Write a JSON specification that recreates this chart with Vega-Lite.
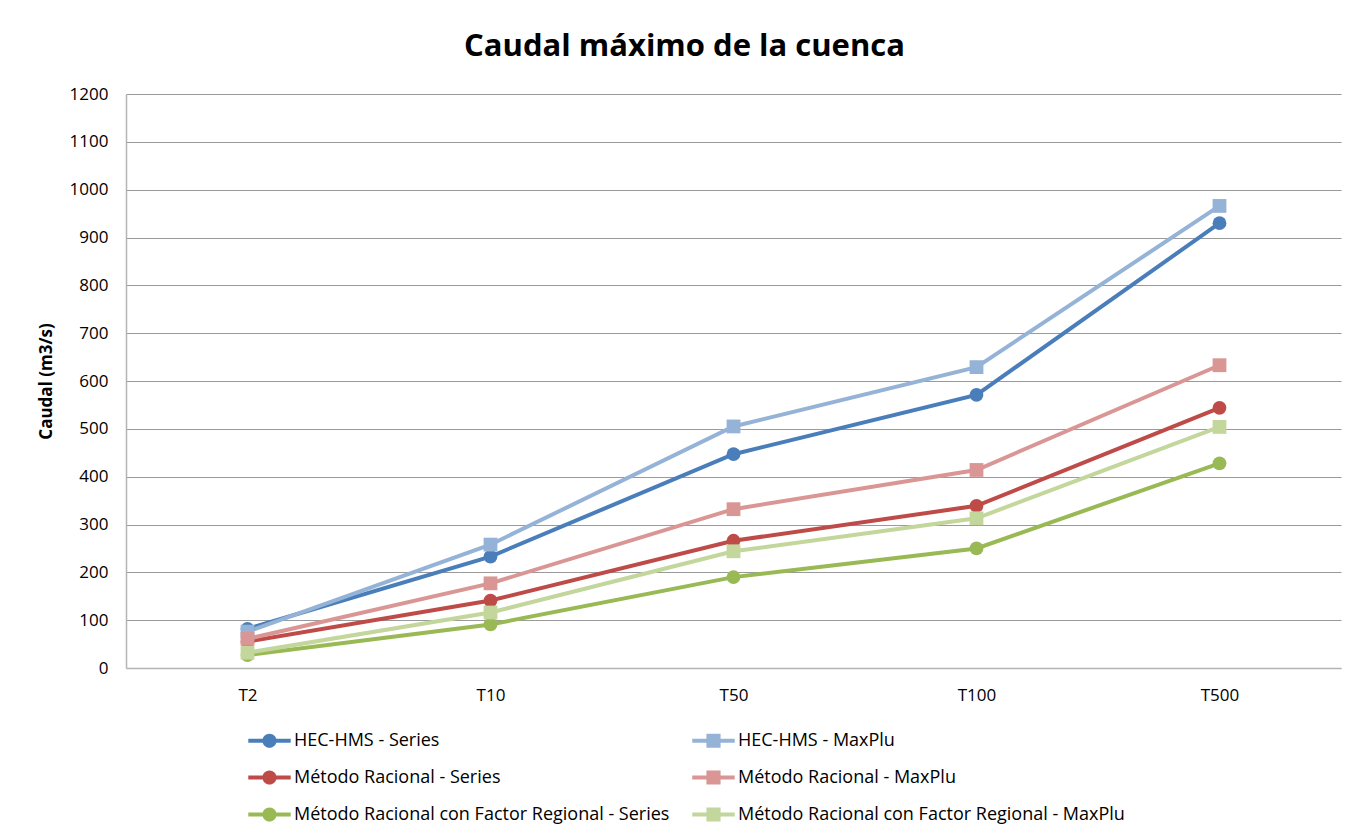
{
  "$schema": "https://vega.github.io/schema/vega-lite/v6.json",
  "width": 1215,
  "height": 574,
  "autosize": {"type": "none"},
  "padding": {"left": 126, "top": 94, "right": 26, "bottom": 172},
  "background": "white",
  "title": {
    "text": "Caudal máximo de la cuenca",
    "font": "Open Sans",
    "fontSize": 31,
    "fontWeight": "bold",
    "color": "#000000",
    "anchor": "middle",
    "dx": -49,
    "offset": 22
  },
  "config": {
    "view": {"stroke": null},
    "font": "Open Sans"
  },
  "data": {
    "values": [
      {"serie": "HEC-HMS - Series", "tipo": "Series", "T": "T2", "q": 82},
      {"serie": "HEC-HMS - Series", "tipo": "Series", "T": "T10", "q": 233},
      {"serie": "HEC-HMS - Series", "tipo": "Series", "T": "T50", "q": 447},
      {"serie": "HEC-HMS - Series", "tipo": "Series", "T": "T100", "q": 571},
      {"serie": "HEC-HMS - Series", "tipo": "Series", "T": "T500", "q": 930},
      {"serie": "HEC-HMS - MaxPlu", "tipo": "MaxPlu", "T": "T2", "q": 76},
      {"serie": "HEC-HMS - MaxPlu", "tipo": "MaxPlu", "T": "T10", "q": 258},
      {"serie": "HEC-HMS - MaxPlu", "tipo": "MaxPlu", "T": "T50", "q": 505},
      {"serie": "HEC-HMS - MaxPlu", "tipo": "MaxPlu", "T": "T100", "q": 629},
      {"serie": "HEC-HMS - MaxPlu", "tipo": "MaxPlu", "T": "T500", "q": 966},
      {"serie": "Método Racional - Series", "tipo": "Series", "T": "T2", "q": 55},
      {"serie": "Método Racional - Series", "tipo": "Series", "T": "T10", "q": 141},
      {"serie": "Método Racional - Series", "tipo": "Series", "T": "T50", "q": 266},
      {"serie": "Método Racional - Series", "tipo": "Series", "T": "T100", "q": 339},
      {"serie": "Método Racional - Series", "tipo": "Series", "T": "T500", "q": 544},
      {"serie": "Método Racional - MaxPlu", "tipo": "MaxPlu", "T": "T2", "q": 61},
      {"serie": "Método Racional - MaxPlu", "tipo": "MaxPlu", "T": "T10", "q": 177},
      {"serie": "Método Racional - MaxPlu", "tipo": "MaxPlu", "T": "T50", "q": 332},
      {"serie": "Método Racional - MaxPlu", "tipo": "MaxPlu", "T": "T100", "q": 414},
      {"serie": "Método Racional - MaxPlu", "tipo": "MaxPlu", "T": "T500", "q": 633},
      {"serie": "Método Racional con Factor Regional - Series", "tipo": "Series", "T": "T2", "q": 27},
      {"serie": "Método Racional con Factor Regional - Series", "tipo": "Series", "T": "T10", "q": 91},
      {"serie": "Método Racional con Factor Regional - Series", "tipo": "Series", "T": "T50", "q": 190},
      {"serie": "Método Racional con Factor Regional - Series", "tipo": "Series", "T": "T100", "q": 250},
      {"serie": "Método Racional con Factor Regional - Series", "tipo": "Series", "T": "T500", "q": 428},
      {"serie": "Método Racional con Factor Regional - MaxPlu", "tipo": "MaxPlu", "T": "T2", "q": 32},
      {"serie": "Método Racional con Factor Regional - MaxPlu", "tipo": "MaxPlu", "T": "T10", "q": 116},
      {"serie": "Método Racional con Factor Regional - MaxPlu", "tipo": "MaxPlu", "T": "T50", "q": 244},
      {"serie": "Método Racional con Factor Regional - MaxPlu", "tipo": "MaxPlu", "T": "T100", "q": 313},
      {"serie": "Método Racional con Factor Regional - MaxPlu", "tipo": "MaxPlu", "T": "T500", "q": 504}
    ]
  },
  "encoding": {
    "x": {
      "field": "T",
      "type": "ordinal",
      "sort": ["T2", "T10", "T50", "T100", "T500"],
      "scale": {"type": "point", "padding": 0.5},
      "axis": {
        "title": null,
        "labelAngle": 0,
        "labelFont": "Open Sans",
        "labelFontSize": 17,
        "labelColor": "#000000",
        "labelPadding": 19,
        "ticks": false,
        "domainColor": "#B4B4B4",
        "domainWidth": 1.5,
        "grid": false
      }
    },
    "y": {
      "field": "q",
      "type": "quantitative",
      "scale": {"domain": [0, 1200], "nice": false},
      "axis": {
        "title": "Caudal (m3/s)",
        "titleFont": "Open Sans",
        "titleFontSize": 17,
        "titleFontWeight": "bold",
        "titleColor": "#000000",
        "titlePadding": 14,
        "values": [0, 100, 200, 300, 400, 500, 600, 700, 800, 900, 1000, 1100, 1200],
        "format": "d",
        "labelFont": "Open Sans",
        "labelFontSize": 17,
        "labelColor": "#000000",
        "labelPadding": 18,
        "ticks": false,
        "domainColor": "#B4B4B4",
        "domainWidth": 1.5,
        "grid": true,
        "gridColor": "#9A9A9A",
        "gridWidth": 1
      }
    },
    "color": {
      "field": "serie",
      "type": "nominal",
      "sort": [
        "HEC-HMS - Series",
        "HEC-HMS - MaxPlu",
        "Método Racional - Series",
        "Método Racional - MaxPlu",
        "Método Racional con Factor Regional - Series",
        "Método Racional con Factor Regional - MaxPlu"
      ],
      "scale": {
        "domain": [
          "HEC-HMS - Series",
          "HEC-HMS - MaxPlu",
          "Método Racional - Series",
          "Método Racional - MaxPlu",
          "Método Racional con Factor Regional - Series",
          "Método Racional con Factor Regional - MaxPlu"
        ],
        "range": ["#4A7EBB", "#95B3D7", "#BE4B48", "#D99694", "#98B954", "#C3D69B"]
      },
      "legend": {
        "title": null,
        "orient": "none",
        "legendX": 129,
        "legendY": 632,
        "columns": 2,
        "direction": "horizontal",
        "columnPadding": 22,
        "rowPadding": 13,
        "labelFont": "Open Sans",
        "labelFontSize": 18,
        "labelColor": "#000000",
        "labelOffset": 10,
        "labelLimit": 600,
        "symbolSize": 800,
        "symbolStrokeWidth": 0,
        "symbolOpacity": 1,
        "symbolType": "M-1.5,-0.14H1.5V0.14H-1.5Z M-0.5,0A0.5,0.5 0 1,1 0.5,0A0.5,0.5 0 1,1 -0.5,0Z",
        "encode": {
          "symbols": {
            "update": {
              "shape": {
                "signal": "indexof(datum.value, 'MaxPlu') >= 0 ? 'M-1.5,-0.14H1.5V0.14H-1.5Z M-0.5,-0.5H0.5V0.5H-0.5Z' : 'M-1.5,-0.14H1.5V0.14H-1.5Z M-0.5,0A0.5,0.5 0 1,1 0.5,0A0.5,0.5 0 1,1 -0.5,0Z'"
              },
              "strokeWidth": {"value": 0}
            }
          }
        }
      }
    },
    "order": {"value": null}
  },
  "layer": [
    {
      "mark": {"type": "line", "strokeWidth": 4}
    },
    {
      "transform": [{"filter": "datum.tipo === 'Series'"}],
      "mark": {"type": "point", "shape": "circle", "filled": true, "opacity": 1, "size": 190}
    },
    {
      "transform": [{"filter": "datum.tipo === 'MaxPlu'"}],
      "mark": {"type": "point", "shape": "square", "filled": true, "opacity": 1, "size": 190}
    }
  ]
}
